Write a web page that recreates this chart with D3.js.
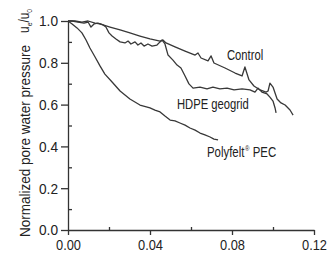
<!DOCTYPE html>
<html>
<head>
<meta charset="utf-8">
<script src="https://cdn.jsdelivr.net/npm/d3@7"></script>
<style>
  body { margin: 0; background: #fff; }
  text { font-family: "Liberation Sans", Arial, sans-serif; fill: #222; }
</style>
</head>
<body>
<div id="main"></div>
<script>
// strain (x) vs normalized pore pressure (y)
let controlX = [0, 0.0034, 0.0068, 0.0098, 0.0132, 0.0156, 0.0205, 0.0254, 0.0302, 0.0351, 0.0400, 0.0449, 0.0463, 0.0478, 0.0522, 0.0571, 0.0620, 0.0634, 0.0649, 0.0683, 0.0698, 0.0712, 0.0766, 0.0815, 0.0849, 0.0863, 0.0883, 0.0907, 0.0937, 0.0966, 0.0976, 0.0985, 0.1000, 0.1020, 0.1039, 0.1059, 0.1083, 0.1098];
let controlY = [1.0, 1.0, 0.995, 1.0, 0.990, 0.986, 0.971, 0.957, 0.943, 0.928, 0.914, 0.904, 0.909, 0.895, 0.876, 0.856, 0.837, 0.847, 0.823, 0.809, 0.833, 0.799, 0.775, 0.751, 0.737, 0.780, 0.718, 0.689, 0.670, 0.660, 0.665, 0.703, 0.684, 0.627, 0.608, 0.598, 0.574, 0.550];

let hdpeX = [0, 0.002, 0.0049, 0.0078, 0.0098, 0.0112, 0.0127, 0.0146, 0.0171, 0.0185, 0.0200, 0.0215, 0.0234, 0.0254, 0.0278, 0.0293, 0.0307, 0.0327, 0.0341, 0.0356, 0.0371, 0.0390, 0.0410, 0.0434, 0.0449, 0.0459, 0.0473, 0.0488, 0.0512, 0.0532, 0.0551, 0.0571, 0.0590, 0.0610, 0.0644, 0.0678, 0.0707, 0.0741, 0.0776, 0.0810, 0.0849, 0.0888, 0.0912, 0.0927, 0.0946, 0.0971, 0.0985, 0.1000, 0.1010, 0.1015];
let hdpeY = [1.0, 1.0, 0.995, 0.990, 0.995, 0.971, 0.986, 0.990, 0.981, 0.971, 0.943, 0.928, 0.914, 0.900, 0.895, 0.904, 0.890, 0.900, 0.885, 0.895, 0.880, 0.890, 0.880, 0.885, 0.900, 0.909, 0.890, 0.837, 0.813, 0.789, 0.775, 0.737, 0.699, 0.679, 0.684, 0.675, 0.684, 0.675, 0.679, 0.670, 0.675, 0.670, 0.660, 0.679, 0.660, 0.651, 0.636, 0.617, 0.584, 0.560];

let pecX = [0, 0.002, 0.0044, 0.0068, 0.0088, 0.0107, 0.0132, 0.0156, 0.0180, 0.0215, 0.0254, 0.0302, 0.0351, 0.0400, 0.0424, 0.0449, 0.0473, 0.0498, 0.0522, 0.0546, 0.0571, 0.0595, 0.0620, 0.0644, 0.0668, 0.0693, 0.0712, 0.0732];
let pecY = [1.0, 0.986, 0.967, 0.943, 0.909, 0.871, 0.828, 0.785, 0.746, 0.708, 0.665, 0.627, 0.598, 0.584, 0.574, 0.565, 0.545, 0.526, 0.522, 0.512, 0.502, 0.488, 0.478, 0.464, 0.455, 0.445, 0.435, 0.431];

let xTicks = [0, 0.04, 0.08, 0.12];
let xMinor = [0.02, 0.06, 0.10];
let yTicks = [0, 0.2, 0.4, 0.6, 0.8, 1.0];
let yMinor = [0.1, 0.3, 0.5, 0.7, 0.9];

let svg = d3.select("#main")
    .append("svg")
    .attr("width", 330)
    .attr("height", 262);

var xScale = d3.scaleLinear().domain([0, 0.12]).range([68, 314]);
var yScale = d3.scaleLinear().domain([0, 1]).range([230, 21]);

// axes
svg.append("g").attr("transform", "translate(0,230)")
    .call(d3.axisBottom(xScale).tickValues(xTicks).tickFormat(d3.format(".2f"))
        .tickSize(5).tickSizeOuter(0).tickPadding(4))
    .selectAll(".tick text")
    .attr("textLength", 25).attr("lengthAdjust", "spacingAndGlyphs");
svg.append("g").attr("transform", "translate(0,230)")
    .call(d3.axisTop(xScale).tickValues(xMinor).tickFormat("").tickSize(3).tickSizeOuter(0))
    .select(".domain").remove();

svg.append("g").attr("transform", "translate(68,0)")
    .call(d3.axisLeft(yScale).tickValues(yTicks).tickFormat(d3.format(".1f"))
        .tickSize(7).tickSizeOuter(0).tickPadding(3))
    .selectAll(".tick text")
    .attr("textLength", 19).attr("lengthAdjust", "spacingAndGlyphs");
svg.append("g").attr("transform", "translate(68,0)")
    .call(d3.axisRight(yScale).tickValues(yMinor).tickFormat("").tickSize(4).tickSizeOuter(0))
    .select(".domain").remove();

svg.selectAll(".tick text").style("font-size", "15px").attr("fill", "#222");
svg.selectAll(".domain, .tick line").attr("stroke", "#333").attr("stroke-width", 1.3);

// curves
let line = d3.line().x(d => xScale(d[0])).y(d => yScale(d[1]));
let series = [
    d3.zip(controlX, controlY),
    d3.zip(hdpeX, hdpeY),
    d3.zip(pecX, pecY)
];
svg.selectAll("path.curve").data(series).enter()
    .append("path")
    .attr("class", "curve")
    .attr("d", line)
    .attr("fill", "none")
    .attr("stroke", "#383838")
    .attr("stroke-width", 1.3)
    .attr("stroke-linejoin", "round");

// labels (condensed face is not installed, so squeeze horizontally)
function label(x, y, sx, txt) {
    return svg.append("text")
        .attr("transform", `translate(${x},${y}) scale(${sx},1)`)
        .style("font-size", "15px").text(txt);
}
label(227, 60, 0.75, "Control");
label(177, 109, 0.75, "HDPE geogrid");
let pl = label(207, 157, 0.76, "Polyfelt");
pl.append("tspan").attr("dx", 1).attr("dy", -6).style("font-size", "8px").text("®");
pl.append("tspan").attr("dy", 6).text(" PEC");

svg.append("text")
    .attr("transform", "translate(30,141) rotate(-90)")
    .attr("text-anchor", "middle")
    .attr("textLength", 192).attr("lengthAdjust", "spacingAndGlyphs")
    .style("font-size", "14px")
    .text("Normalized pore water pressure");

let ul = svg.append("text")
    .attr("transform", "translate(29,33) rotate(-90) scale(0.85,1)")
    .style("font-size", "14px");
ul.append("tspan").text("u");
ul.append("tspan").attr("dy", 3).style("font-size", "8px").text("e");
ul.append("tspan").attr("dy", -3).text("/u");
ul.append("tspan").attr("dy", 3).style("font-size", "8px").text("0");
</script>
</body>
</html>
